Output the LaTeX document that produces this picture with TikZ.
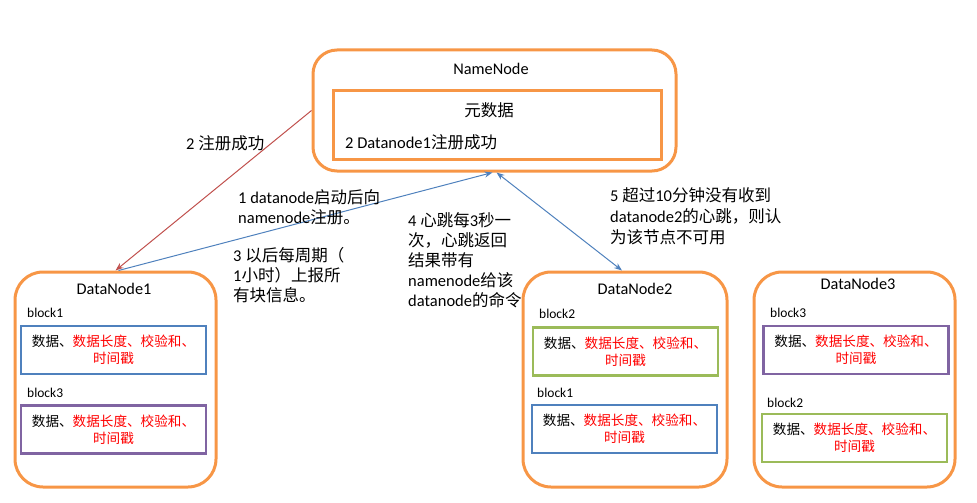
\documentclass[tikz,border=0pt]{standalone}
\usepackage{fontspec}
\setmainfont{Carlito}
\newfontfamily\cjkfont{Noto Sans CJK SC}
\newcommand{\zh}[1]{{\cjkfont #1}}
\usepackage{xcolor}
\usetikzlibrary{arrows.meta,positioning}
\definecolor{hdorange}{RGB}{247,150,70}
\definecolor{hdblue}{RGB}{79,129,189}
\definecolor{hdred}{RGB}{192,80,77}
\definecolor{hdgreen}{RGB}{155,187,89}
\definecolor{hdpurple}{RGB}{128,100,162}
\newcommand{\blockinfo}{\zh{数据、\textcolor{red}{数据长度、校验和、}}\\\zh{\textcolor{red}{时间戳}}}

\begin{document}
\begin{tikzpicture}[x=1pt, y=-1pt, >={Stealth[length=8pt,width=6pt]},
    serverbox/.style={draw=hdorange, line width=3pt, rounded corners=28pt, minimum height=215pt},
    title/.style={font=\fontsize{16.3}{19}\selectfont, inner sep=0pt},
    blockbox/.style={draw, line width=2.6pt, minimum width=185pt, minimum height=48pt, align=center,
        font=\fontsize{13.6}{17}\selectfont, inner sep=0pt},
    blocklabel/.style={anchor=west, font=\fontsize{13.5}{16}\selectfont, inner sep=0pt},
    note/.style={align=left, font=\fontsize{16.5}{20}\selectfont, inner sep=0pt}]
    \useasboundingbox (0,0) rectangle (977,503);

    % NameNode
    \node[draw=hdorange, line width=3pt, rounded corners=24pt, minimum width=363pt, minimum height=121pt] (namenode) at (494.5,110.5) {};
    \node[title] (nntitle) at (491,69) {NameNode};
    \node[draw=hdorange, line width=3pt, minimum width=328pt, minimum height=69pt] (meta) at (497,124.5) {};
    \node[note] (metatitle) at (489,110) {\zh{元数据}};
    \node[note, anchor=west] (metanote) at (345,142) {2 Datanode1\zh{注册成功}};

    % DataNodes
    \node[serverbox, minimum width=201pt] (dn1) at (115.5,379.5) {};
    \node[serverbox, minimum width=204pt] (dn2) at (625,379.5) {};
    \node[serverbox, minimum width=201pt] (dn3) at (854.5,379.5) {};
    \node[title] (dn1title) at (114,289) {DataNode1};
    \node[title] (dn2title) at (635,289) {DataNode2};
    \node[title] (dn3title) at (858,284) {DataNode3};

    % blocks
    \foreach \bname/\bx/\by/\bcol/\btext/\lx/\ly in {
        d1b1/113.5/350/hdblue/block1/27/313,
        d1b3/113.5/429.5/hdpurple/block3/27/393,
        d2b2/625.5/351.5/hdgreen/block2/539/314,
        d2b1/624.5/429/hdblue/block1/537/393,
        d3b3/856/350/hdpurple/block3/770/313,
        d3b2/854.5/438/hdgreen/block2/767/403} {
        \node[blockbox, draw=\bcol] (\bname) at (\bx,\by) {\blockinfo};
        \node[blocklabel] (\bname-lab) at (\lx,\ly) {\btext};
    }

    % messages
    \draw[->, hdred, line width=1pt] (namenode.west) -- (dn1.north);
    \draw[->, hdblue, line width=1pt] ([xshift=3pt]dn1.north) -- ([xshift=-2pt]namenode.south);
    \draw[<->, hdblue, line width=1pt] ([xshift=2pt]namenode.south) -- ([xshift=-3pt]dn2.north);

    \node[note, anchor=west] (step2) at (186,143) {2 \zh{注册成功}};
    \node[note, anchor=north west] (step1) at (238,189) {1 datanode\zh{启动后向}\\namenode\zh{注册。}};
    \node[note, anchor=north west] (step3) at (233,247) {3 \zh{以后每周期（}\\1\zh{小时）上报所}\\\zh{有块信息。}};
    \node[note, anchor=north west] (step4) at (408,212) {4 \zh{心跳每}3\zh{秒一}\\\zh{次，心跳返回}\\\zh{结果带有}\\namenode\zh{给该}\\datanode\zh{的命令}};
    \node[note, anchor=north west, font=\fontsize{16.5}{21}\selectfont] (step5) at (610,187) {5 \zh{超过}10\zh{分钟没有收到}\\datanode2\zh{的心跳，则认}\\\zh{为该节点不可用}};
\end{tikzpicture}
\end{document}
